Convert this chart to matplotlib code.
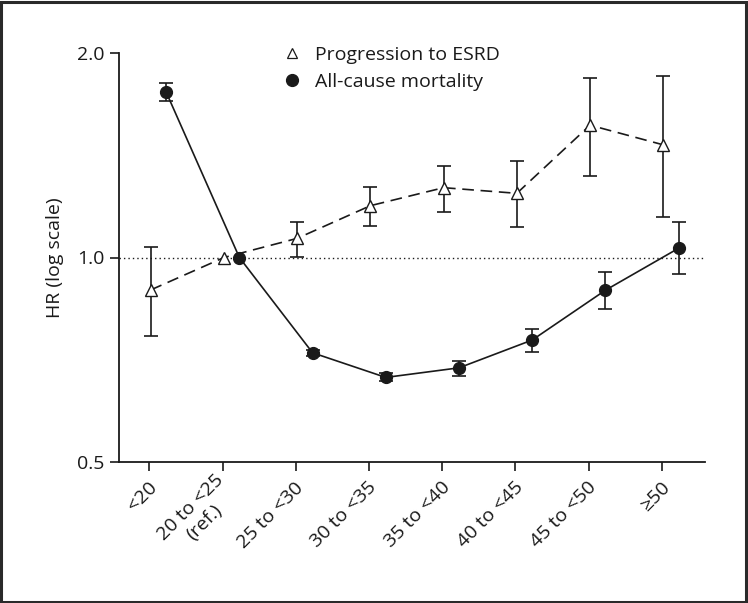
import numpy as np
import matplotlib
matplotlib.use("Agg")
import matplotlib.pyplot as plt
from matplotlib.patches import Rectangle
from matplotlib.lines import Line2D
from matplotlib.ticker import FixedLocator, NullLocator
from matplotlib.transforms import ScaledTranslation

plt.rcParams['font.family'] = ['Open Sans', 'DejaVu Sans']

categories = ['<20', '20 to <25\n(ref.)', '25 to <30', '30 to <35',
              '35 to <40', '40 to <45', '45 to <50', '\u226550']
esrd_hr = [0.896, 1.0, 1.067, 1.192, 1.267, 1.243, 1.566, 1.465]
esrd_lo = [0.767, 1.0, 1.003, 1.114, 1.167, 1.108, 1.320, 1.148]
esrd_hi = [1.037, 1.0, 1.129, 1.269, 1.365, 1.386, 1.840, 1.851]
mort_hr = [1.752, 1.0, 0.724, 0.666, 0.688, 0.756, 0.895, 1.032]
mort_lo = [1.702, 1.0, 0.716, 0.657, 0.670, 0.726, 0.840, 0.945]
mort_hi = [1.806, 1.0, 0.732, 0.675, 0.703, 0.784, 0.952, 1.127]
y_ticks = [0.5, 1.0, 2.0]
y_ticklabels = ['0.5', '1.0', '2.0']
ref_index = 1

W, H = 748, 603
fig = plt.figure(figsize=(W / 100, H / 100), dpi=100)
ax = fig.add_axes([119 / W, 1 - 462 / H, (705 - 119) / W, (462 - 53) / H])

x = np.arange(len(categories))
off_t = 0.02
off_c = 0.23
col = '#1a1a1a'
fs = 14

# reference line
ax.axhline(1.0, color=col, lw=1.0, ls=(0, (1, 2.2)), zorder=1)

mask = np.array([i != ref_index for i in range(len(categories))])

# ESRD (triangles)
eh = np.array(esrd_hr); el = np.array(esrd_lo); eu = np.array(esrd_hi)
ax.errorbar(x[mask] + off_t, eh[mask], yerr=[eh[mask] - el[mask], eu[mask] - eh[mask]],
            fmt='none', ecolor=col, elinewidth=1.2, capsize=5, capthick=1.2, zorder=2)
ax.plot(x + off_t, eh, color=col, lw=1.2, ls=(0, (7, 4)), zorder=3)
ax.plot(x + off_t, eh, ls='none', marker='^', ms=8.5, mfc='white', mec=col, mew=1.0, zorder=4)

# Mortality (circles)
mh = np.array(mort_hr); ml = np.array(mort_lo); mu = np.array(mort_hi)
ax.errorbar(x[mask] + off_c, mh[mask], yerr=[mh[mask] - ml[mask], mu[mask] - mh[mask]],
            fmt='none', ecolor=col, elinewidth=1.2, capsize=5, capthick=1.2, zorder=2)
ax.plot(x + off_c, mh, color=col, lw=1.2, marker='o', ms=8.5, mfc=col, mec=col, zorder=5)

ax.set_yscale('log')
ax.set_ylim(0.5, 2.0)
ax.yaxis.set_major_locator(FixedLocator(y_ticks))
ax.yaxis.set_minor_locator(NullLocator())
ax.set_yticklabels(y_ticklabels)
ax.set_xlim(-0.414, 7.59)
ax.set_xticks(x)

for s in ['top', 'right']:
    ax.spines[s].set_visible(False)
for s in ['left', 'bottom']:
    ax.spines[s].set_linewidth(1.3)
    ax.spines[s].set_color(col)
ax.tick_params(axis='both', which='major', length=6.5, width=1.2, color=col,
               labelsize=fs, labelcolor=col)
ax.tick_params(axis='x', pad=10)
ax.tick_params(axis='y', pad=4)
ax.set_ylabel('HR (log scale)', fontsize=fs, color=col, labelpad=9)

ax.set_xticklabels(categories, rotation=45, ha='right', va='center',
                   rotation_mode='anchor', multialignment='center')
shift = ScaledTranslation(5 / 100, 0, fig.dpi_scale_trans)
for lab in ax.get_xticklabels():
    lab.set_transform(lab.get_transform() + shift)

# legend
handles = [Line2D([], [], ls='none', marker='^', ms=7, mfc='white', mec=col, mew=0.9),
           Line2D([], [], ls='none', marker='o', ms=8.5, mfc=col, mec=col)]
fig.legend(handles, ['Progression to ESRD', 'All-cause mortality'],
           loc='upper left', bbox_to_anchor=(282 / W, 1 - 46 / H),
           frameon=False, fontsize=fs, handlelength=1.0, handletextpad=0.69,
           borderpad=0, borderaxespad=0, labelspacing=0.44, labelcolor=col)

# figure border
fig.patches.append(Rectangle((1 / W, 1 / H), 1 - 3 / W, 1 - 3 / H, transform=fig.transFigure,
                             fill=False, ec='#2a2a2a', lw=2.2))

fig.savefig('out.png', dpi=100)
